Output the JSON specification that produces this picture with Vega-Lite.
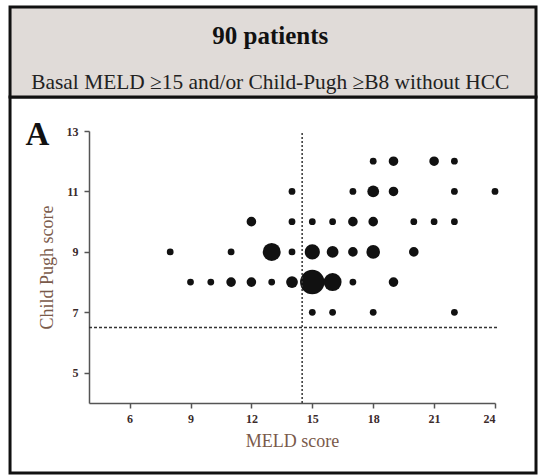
{
  "$schema": "https://vega.github.io/schema/vega-lite/v6.json",
  "width": 406,
  "height": 272,
  "autosize": {"type": "none"},
  "padding": {"left": 89, "top": 131, "right": 45, "bottom": 73},
  "background": "white",
  "config": {
    "view": {"stroke": null},
    "axis": {
      "zindex": 1,
      "grid": false,
      "domainColor": "#555555",
      "domainWidth": 1.5,
      "tickColor": "#555555",
      "tickWidth": 1.5,
      "tickSize": 5,
      "labelFont": "Liberation Serif",
      "labelFontWeight": "bold",
      "labelFontSize": 12,
      "labelColor": "#3b2b2b",
      "titleFont": "Liberation Serif",
      "titleFontWeight": "normal",
      "titleFontSize": 18,
      "titleColor": "#7a5a4a"
    }
  },
  "layer": [
    {
      "data": {
        "values": [
          {"meld": 18, "cp": 12, "n": 1}, {"meld": 19, "cp": 12, "n": 2}, {"meld": 21, "cp": 12, "n": 2}, {"meld": 22, "cp": 12, "n": 1},
          {"meld": 14, "cp": 11, "n": 1}, {"meld": 17, "cp": 11, "n": 1}, {"meld": 18, "cp": 11, "n": 3}, {"meld": 19, "cp": 11, "n": 2}, {"meld": 22, "cp": 11, "n": 1}, {"meld": 24, "cp": 11, "n": 1},
          {"meld": 12, "cp": 10, "n": 2}, {"meld": 14, "cp": 10, "n": 1}, {"meld": 15, "cp": 10, "n": 1}, {"meld": 16, "cp": 10, "n": 1}, {"meld": 17, "cp": 10, "n": 2}, {"meld": 18, "cp": 10, "n": 2}, {"meld": 20, "cp": 10, "n": 1}, {"meld": 21, "cp": 10, "n": 1}, {"meld": 22, "cp": 10, "n": 1},
          {"meld": 8, "cp": 9, "n": 1}, {"meld": 11, "cp": 9, "n": 1}, {"meld": 13, "cp": 9, "n": 7}, {"meld": 14, "cp": 9, "n": 1}, {"meld": 15, "cp": 9, "n": 5}, {"meld": 16, "cp": 9, "n": 3}, {"meld": 17, "cp": 9, "n": 2}, {"meld": 18, "cp": 9, "n": 4}, {"meld": 20, "cp": 9, "n": 2},
          {"meld": 9, "cp": 8, "n": 1}, {"meld": 10, "cp": 8, "n": 1}, {"meld": 11, "cp": 8, "n": 2}, {"meld": 12, "cp": 8, "n": 2}, {"meld": 13, "cp": 8, "n": 1}, {"meld": 14, "cp": 8, "n": 3}, {"meld": 15, "cp": 8, "n": 13}, {"meld": 16, "cp": 8, "n": 7}, {"meld": 17, "cp": 8, "n": 1}, {"meld": 19, "cp": 8, "n": 2},
          {"meld": 15, "cp": 7, "n": 1}, {"meld": 16, "cp": 7, "n": 1}, {"meld": 18, "cp": 7, "n": 1}, {"meld": 22, "cp": 7, "n": 1}
        ]
      },
      "mark": {"type": "circle", "color": "#111111", "opacity": 1},
      "encoding": {
        "x": {
          "field": "meld", "type": "quantitative",
          "scale": {"domain": [4, 24], "nice": false, "zero": false},
          "axis": {"values": [6, 9, 12, 15, 18, 21, 24], "labelPadding": 5, "titlePadding": 8, "title": "MELD score"}
        },
        "y": {
          "field": "cp", "type": "quantitative",
          "scale": {"domain": [4, 13], "nice": false, "zero": false},
          "axis": {"values": [5, 7, 9, 11, 13], "labelPadding": 6, "titlePadding": 10, "title": "Child Pugh score"}
        },
        "size": {
          "field": "n", "type": "quantitative",
          "scale": {"type": "linear", "domain": [0, 13], "range": [0, 600]},
          "legend": null
        }
      }
    },
    {
      "data": {"values": [{}]},
      "mark": {"type": "rect", "fill": null, "fillOpacity": 0, "stroke": "#111111", "strokeWidth": 3},
      "encoding": {
        "x": {"datum": 0.11, "type": "quantitative"},
        "x2": {"datum": 26.02},
        "y": {"datum": 1.684, "type": "quantitative"},
        "y2": {"datum": 14.125}
      }
    },
    {
      "data": {"values": [{}]},
      "mark": {"type": "rect", "fill": "#e0dbd8", "stroke": "#111111", "strokeWidth": 3},
      "encoding": {
        "x": {"datum": 0.11, "type": "quantitative"},
        "x2": {"datum": 26.02},
        "y": {"datum": 14.125, "type": "quantitative"},
        "y2": {"datum": 17.1}
      }
    },
    {
      "data": {"values": [{}]},
      "mark": {"type": "text", "font": "Liberation Serif", "fontSize": 25, "fontWeight": "bold", "color": "#111111", "align": "center", "baseline": "alphabetic"},
      "encoding": {
        "x": {"datum": 12.93, "type": "quantitative"},
        "y": {"datum": 15.88, "type": "quantitative"},
        "text": {"value": "90 patients"}
      }
    },
    {
      "data": {"values": [{}]},
      "mark": {"type": "text", "font": "Liberation Serif", "fontSize": 21.4, "color": "#222222", "align": "center", "baseline": "alphabetic"},
      "encoding": {
        "x": {"datum": 12.93, "type": "quantitative"},
        "y": {"datum": 14.39, "type": "quantitative"},
        "text": {"value": "Basal MELD ≥15 and/or Child-Pugh ≥B8 without HCC"}
      }
    },
    {
      "data": {"values": [{}]},
      "mark": {"type": "text", "font": "Liberation Serif", "fontSize": 33, "fontWeight": "bold", "color": "#111111", "align": "center", "baseline": "alphabetic"},
      "encoding": {
        "x": {"datum": 1.46, "type": "quantitative"},
        "y": {"datum": 12.54, "type": "quantitative"},
        "text": {"value": "A"}
      }
    },
    {
      "data": {"values": [{}]},
      "mark": {"type": "rule", "color": "#333333", "strokeWidth": 1.5, "strokeDash": [2, 2]},
      "encoding": {
        "x": {"datum": 14.5, "type": "quantitative"},
        "y": {"datum": 4, "type": "quantitative"},
        "y2": {"datum": 13}
      }
    },
    {
      "data": {"values": [{}]},
      "mark": {"type": "rule", "color": "#333333", "strokeWidth": 1.5, "strokeDash": [3, 2]},
      "encoding": {
        "y": {"datum": 6.5, "type": "quantitative"},
        "x": {"datum": 4, "type": "quantitative"},
        "x2": {"datum": 24.1}
      }
    }
  ]
}
